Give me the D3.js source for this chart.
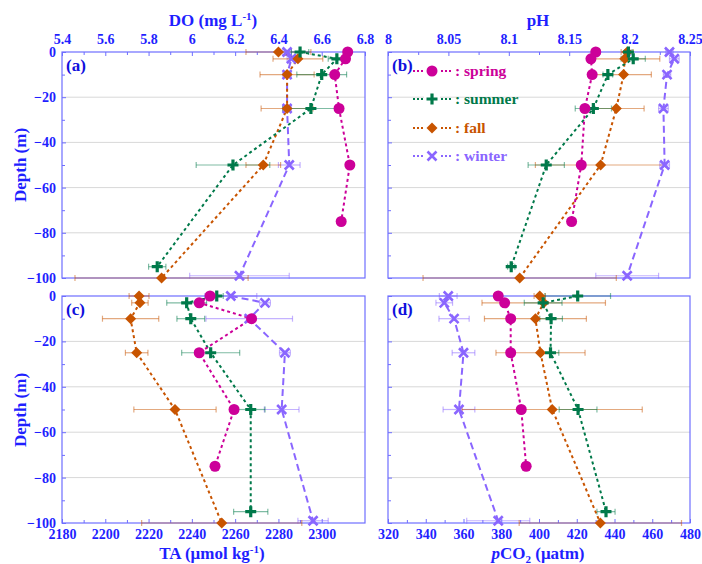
<!DOCTYPE html>
<html>
<head>
<meta charset="utf-8">
<script src="https://cdn.jsdelivr.net/npm/d3@7"></script>
<style>
  body { margin: 0; background: #fff; }
  text { font-family: "Liberation Serif", "Times New Roman", serif; font-weight: bold; }
</style>
</head>
<body>
<svg id="chart" width="702" height="564"></svg>
<script>
// depths (m) for each season
let depth_spring = [0, -3, -10, -25, -50, -75];
let depth_summer = [0, -3, -10, -25, -50, -95];
let depth_fall   = [0, -3, -10, -25, -50, -100];
let depth_winter = [0, -3, -10, -25, -50, -99];

// DO (mg L-1)
let do_spring = [6.72, 6.71, 6.66, 6.68, 6.73, 6.69];
let do_summer = [6.50, 6.67, 6.60, 6.55, 6.19, 5.84];
let do_summer_err = [0.04, 0.04, 0.115, 0.13, 0.17, 0.04];
let do_fall = [6.40, 6.49, 6.44, 6.44, 6.33, 5.86];
let do_fall_err = [0.15, 0.115, 0.125, 0.12, 0.08, 0.40];
let do_winter = [6.44, 6.46, 6.44, 6.44, 6.45, 6.22];
let do_winter_err = [0.02, 0.02, 0.02, 0.02, 0.05, 0.23];

// pH
let ph_spring = [8.172, 8.168, 8.169, 8.163, 8.160, 8.152];
let ph_summer = [8.199, 8.203, 8.182, 8.170, 8.131, 8.102];
let ph_summer_err = [0.003, 0.010, 0.004, 0.015, 0.015, 0.003];
let ph_fall = [8.198, 8.196, 8.195, 8.189, 8.176, 8.109];
let ph_fall_err = [0.005, 0.029, 0.023, 0.023, 0.054, 0.080];
let ph_winter = [8.233, 8.237, 8.231, 8.228, 8.229, 8.198];
let ph_winter_err = [0.003, 0.004, 0.003, 0.004, 0.004, 0.026];

// TA (umol kg-1)
let ta_spring = [2248.4, 2243.4, 2267.6, 2243.4, 2259.5, 2250.7];
let ta_summer = [2251.5, 2237.6, 2239.5, 2248.7, 2267.2, 2267.2];
let ta_summer_err = [3, 9.2, 6.4, 13.4, 6.6, 7.9];
let ta_fall = [2215.6, 2216.0, 2211.7, 2214.5, 2232.2, 2253.8];
let ta_fall_err = [4.6, 3.8, 13, 5.2, 19, 37];
let ta_winter = [2258.0, 2273.8, 2266.5, 2283.0, 2281.5, 2296.0];
let ta_winter_err = [12, 2.5, 20, 2.5, 8, 7];

// pCO2 (uatm)
let pco2_spring = [378.4, 381.8, 385.0, 385.0, 390.6, 393.2];
let pco2_summer = [420.5, 402.2, 406.4, 406.1, 420.7, 435.5];
let pco2_summer_err = [17.4, 10, 6, 4.4, 10, 4.8];
let pco2_fall = [400.4, 402.5, 398.1, 400.8, 407.0, 432.5];
let pco2_fall_err = [3, 32.7, 27, 23.6, 47.7, 43];
let pco2_winter = [351.9, 349.8, 355.0, 360.0, 357.6, 378.4];
let pco2_winter_err = [4.7, 4.4, 8, 6, 8.4, 16.7];

let season_names = ["spring", "summer", "fall", "winter"];
let season_colors = { spring: "#cc0099", summer: "#00794a", fall: "#c85400", winter: "#8a66ff" };
let season_dash = { spring: "3,3", summer: "3,3", fall: "3,3", winter: "7,4" };

let do_ticks = [5.4, 5.6, 5.8, 6, 6.2, 6.4, 6.6, 6.8];
let ph_ticks = [8, 8.05, 8.1, 8.15, 8.2, 8.25];
let ta_ticks = [2180, 2200, 2220, 2240, 2260, 2280, 2300];
let pco2_ticks = [320, 340, 360, 380, 400, 420, 440, 460, 480];
let depth_ticks = [0, -20, -40, -60, -80, -100];

const blue = "#1f1fff";
const frame_color = "#6e6eff";

var svg = d3.select("#chart");

function series(vals, errs, depths, name) {
  return depths.map((d, i) => ({ depth: d, v: vals[i], e: errs ? errs[i] : null, name: name }));
}

function draw_panel(p) {
  let x = d3.scaleLinear().domain(p.domain).range([p.x0, p.x1]);
  let y = d3.scaleLinear().domain([-100, 0]).range([p.y1, p.y0]);
  let g = svg.append("g");

  // grid lines
  g.selectAll(".grid").data([-20, -40, -60, -80]).enter().append("line")
    .attr("x1", p.x0).attr("x2", p.x1)
    .attr("y1", d => y(d)).attr("y2", d => y(d))
    .attr("stroke", "#d8d8d8").attr("stroke-width", 1);

  // left axis ticks (inside)
  let yAxis = d3.axisLeft(y).tickValues(depth_ticks).tickSize(-4).tickPadding(6)
    .tickFormat(p.leftLabels ? d3.format("d") : "");
  let ya = g.append("g").attr("transform", "translate(" + p.x0 + ",0)").call(yAxis);
  let yMinor = d3.axisLeft(y).tickValues(d3.range(-90, 0, 20)).tickSize(-3).tickFormat("");
  let ym = g.append("g").attr("transform", "translate(" + p.x0 + ",0)").call(yMinor);

  // value axis: top or bottom
  let minorVals = [];
  for (let i = 0; i < p.ticks.length - 1; i++) minorVals.push((p.ticks[i] + p.ticks[i + 1]) / 2);
  let fmt = d => String(+d.toFixed(2));
  let xa, xm;
  if (p.top) {
    xa = g.append("g").attr("transform", "translate(0," + p.y0 + ")")
      .call(d3.axisTop(x).tickValues(p.ticks).tickSize(-4).tickPadding(8).tickFormat(fmt));
    xm = g.append("g").attr("transform", "translate(0," + p.y0 + ")")
      .call(d3.axisTop(x).tickValues(minorVals).tickSize(-3).tickFormat(""));
  } else {
    xa = g.append("g").attr("transform", "translate(0," + p.y1 + ")")
      .call(d3.axisBottom(x).tickValues(p.ticks).tickSize(-4).tickPadding(6).tickFormat(fmt));
    xm = g.append("g").attr("transform", "translate(0," + p.y1 + ")")
      .call(d3.axisBottom(x).tickValues(minorVals).tickSize(-3).tickFormat(""));
  }
  [ya, ym, xa, xm].forEach(a => {
    a.select(".domain").remove();
    a.selectAll("line").attr("stroke", frame_color);
    a.selectAll("text").attr("fill", blue).attr("font-size", 14)
      .attr("font-family", "Liberation Serif, serif").attr("font-weight", "bold");
  });

  // frame
  g.append("rect").attr("x", p.x0).attr("y", p.y0)
    .attr("width", p.x1 - p.x0).attr("height", p.y1 - p.y0)
    .attr("fill", "none").attr("stroke", frame_color).attr("stroke-width", 1.2);

  // panel letter
  g.append("text").attr("x", p.x0 + 4).attr("y", p.y0 + 19)
    .attr("fill", "#1010dd").attr("font-size", 17).text(p.letter);

  // draw order: winter first, spring on top
  let order = ["winter", "fall", "summer", "spring"];
  let line = d3.line().x(d => x(d.v)).y(d => y(d.depth));

  order.forEach(name => {
    let data = p.data[name];
    let col = season_colors[name];
    let eb = data.filter(d => d.e != null);
    let ebg = g.append("g").attr("stroke", col).attr("stroke-opacity", 0.5).attr("stroke-width", 1.2);
    ebg.selectAll(".eh").data(eb).enter().append("line")
      .attr("x1", d => x(d.v - d.e)).attr("x2", d => x(d.v + d.e))
      .attr("y1", d => y(d.depth)).attr("y2", d => y(d.depth));
    ebg.selectAll(".el").data(eb).enter().append("line")
      .attr("x1", d => x(d.v - d.e)).attr("x2", d => x(d.v - d.e))
      .attr("y1", d => y(d.depth) - 3).attr("y2", d => y(d.depth) + 3);
    ebg.selectAll(".er").data(eb).enter().append("line")
      .attr("x1", d => x(d.v + d.e)).attr("x2", d => x(d.v + d.e))
      .attr("y1", d => y(d.depth) - 3).attr("y2", d => y(d.depth) + 3);
  });
  order.forEach(name => {
    g.append("path").datum(p.data[name]).attr("d", line)
      .attr("fill", "none").attr("stroke", season_colors[name])
      .attr("stroke-width", 2).attr("stroke-dasharray", season_dash[name]);
  });
  order.forEach(name => {
    p.data[name].forEach(d => draw_marker(g, name, x(d.v), y(d.depth)));
  });
}

function draw_marker(g, name, cx, cy) {
  let col = season_colors[name];
  if (name == "spring") {
    g.append("circle").attr("cx", cx).attr("cy", cy).attr("r", 5.5).attr("fill", col);
  } else if (name == "summer") {
    g.append("path").attr("transform", "translate(" + cx + "," + cy + ")")
      .attr("d", "M-5.5,0H5.5M0,-5.5V5.5").attr("stroke", col).attr("stroke-width", 3.2);
  } else if (name == "fall") {
    g.append("path").attr("transform", "translate(" + cx + "," + cy + ")")
      .attr("d", "M0,-5.5L5.5,0L0,5.5L-5.5,0Z").attr("fill", col);
  } else {
    g.append("path").attr("transform", "translate(" + cx + "," + cy + ")")
      .attr("d", "M-4.5,-4.5L4.5,4.5M-4.5,4.5L4.5,-4.5").attr("stroke", col).attr("stroke-width", 2.6);
  }
}

let panels = [
  { letter: "(a)", x0: 62, x1: 365, y0: 52, y1: 278, domain: [5.4, 6.8], ticks: do_ticks, top: true, leftLabels: true,
    data: { spring: series(do_spring, null, depth_spring), summer: series(do_summer, do_summer_err, depth_summer),
            fall: series(do_fall, do_fall_err, depth_fall), winter: series(do_winter, do_winter_err, depth_winter) } },
  { letter: "(b)", x0: 388, x1: 690, y0: 52, y1: 278, domain: [8, 8.25], ticks: ph_ticks, top: true, leftLabels: false,
    data: { spring: series(ph_spring, null, depth_spring), summer: series(ph_summer, ph_summer_err, depth_summer),
            fall: series(ph_fall, ph_fall_err, depth_fall), winter: series(ph_winter, ph_winter_err, depth_winter) } },
  { letter: "(c)", x0: 62, x1: 365, y0: 296, y1: 523, domain: [2180, 2320], ticks: ta_ticks, top: false, leftLabels: true,
    data: { spring: series(ta_spring, null, depth_spring), summer: series(ta_summer, ta_summer_err, depth_summer),
            fall: series(ta_fall, ta_fall_err, depth_fall), winter: series(ta_winter, ta_winter_err, depth_winter) } },
  { letter: "(d)", x0: 388, x1: 690, y0: 296, y1: 523, domain: [320, 480], ticks: pco2_ticks, top: false, leftLabels: false,
    data: { spring: series(pco2_spring, null, depth_spring), summer: series(pco2_summer, pco2_summer_err, depth_summer),
            fall: series(pco2_fall, pco2_fall_err, depth_fall), winter: series(pco2_winter, pco2_winter_err, depth_winter) } }
];

panels.forEach(draw_panel);

// legend inside panel (b)
let legend_y = [71, 99, 128, 156];
season_names.forEach((name, i) => {
  let col = season_colors[name];
  let ly = legend_y[i];
  svg.append("line").attr("x1", 413).attr("x2", 453).attr("y1", ly).attr("y2", ly)
    .attr("stroke", col).attr("stroke-width", 2).attr("stroke-dasharray", "2,2");
  svg.append("rect").attr("x", 424).attr("y", ly - 7).attr("width", 16).attr("height", 14).attr("fill", "#fff");
  draw_marker(svg, name, 432, ly);
  svg.append("text").attr("x", 455).attr("y", ly + 5).attr("fill", col).attr("font-size", 15.5)
    .text(": " + name);
});

// axis titles
let t1 = svg.append("text").attr("x", 213).attr("y", 26).attr("text-anchor", "middle")
  .attr("fill", blue).attr("font-size", 17);
t1.append("tspan").text("DO (mg L");
t1.append("tspan").attr("dy", -6).attr("font-size", 11).text("-1");
t1.append("tspan").attr("dy", 6).text(")");

svg.append("text").attr("x", 538).attr("y", 26).attr("text-anchor", "middle")
  .attr("fill", blue).attr("font-size", 17).text("pH");

let t3 = svg.append("text").attr("x", 212).attr("y", 559).attr("text-anchor", "middle")
  .attr("fill", blue).attr("font-size", 17);
t3.append("tspan").text("TA (\u03bcmol kg");
t3.append("tspan").attr("dy", -6).attr("font-size", 11).text("-1");
t3.append("tspan").attr("dy", 6).text(")");

let t4 = svg.append("text").attr("x", 538).attr("y", 559).attr("text-anchor", "middle")
  .attr("fill", blue).attr("font-size", 17);
t4.append("tspan").attr("font-style", "italic").text("p");
t4.append("tspan").text("CO");
t4.append("tspan").attr("dy", 4).attr("font-size", 11).text("2");
t4.append("tspan").attr("dy", -4).text(" (\u03bcatm)");

[165, 410].forEach(cy => {
  svg.append("text").attr("transform", "translate(26," + cy + ") rotate(-90)")
    .attr("text-anchor", "middle").attr("fill", blue).attr("font-size", 17).text("Depth (m)");
});
</script>
</body>
</html>
